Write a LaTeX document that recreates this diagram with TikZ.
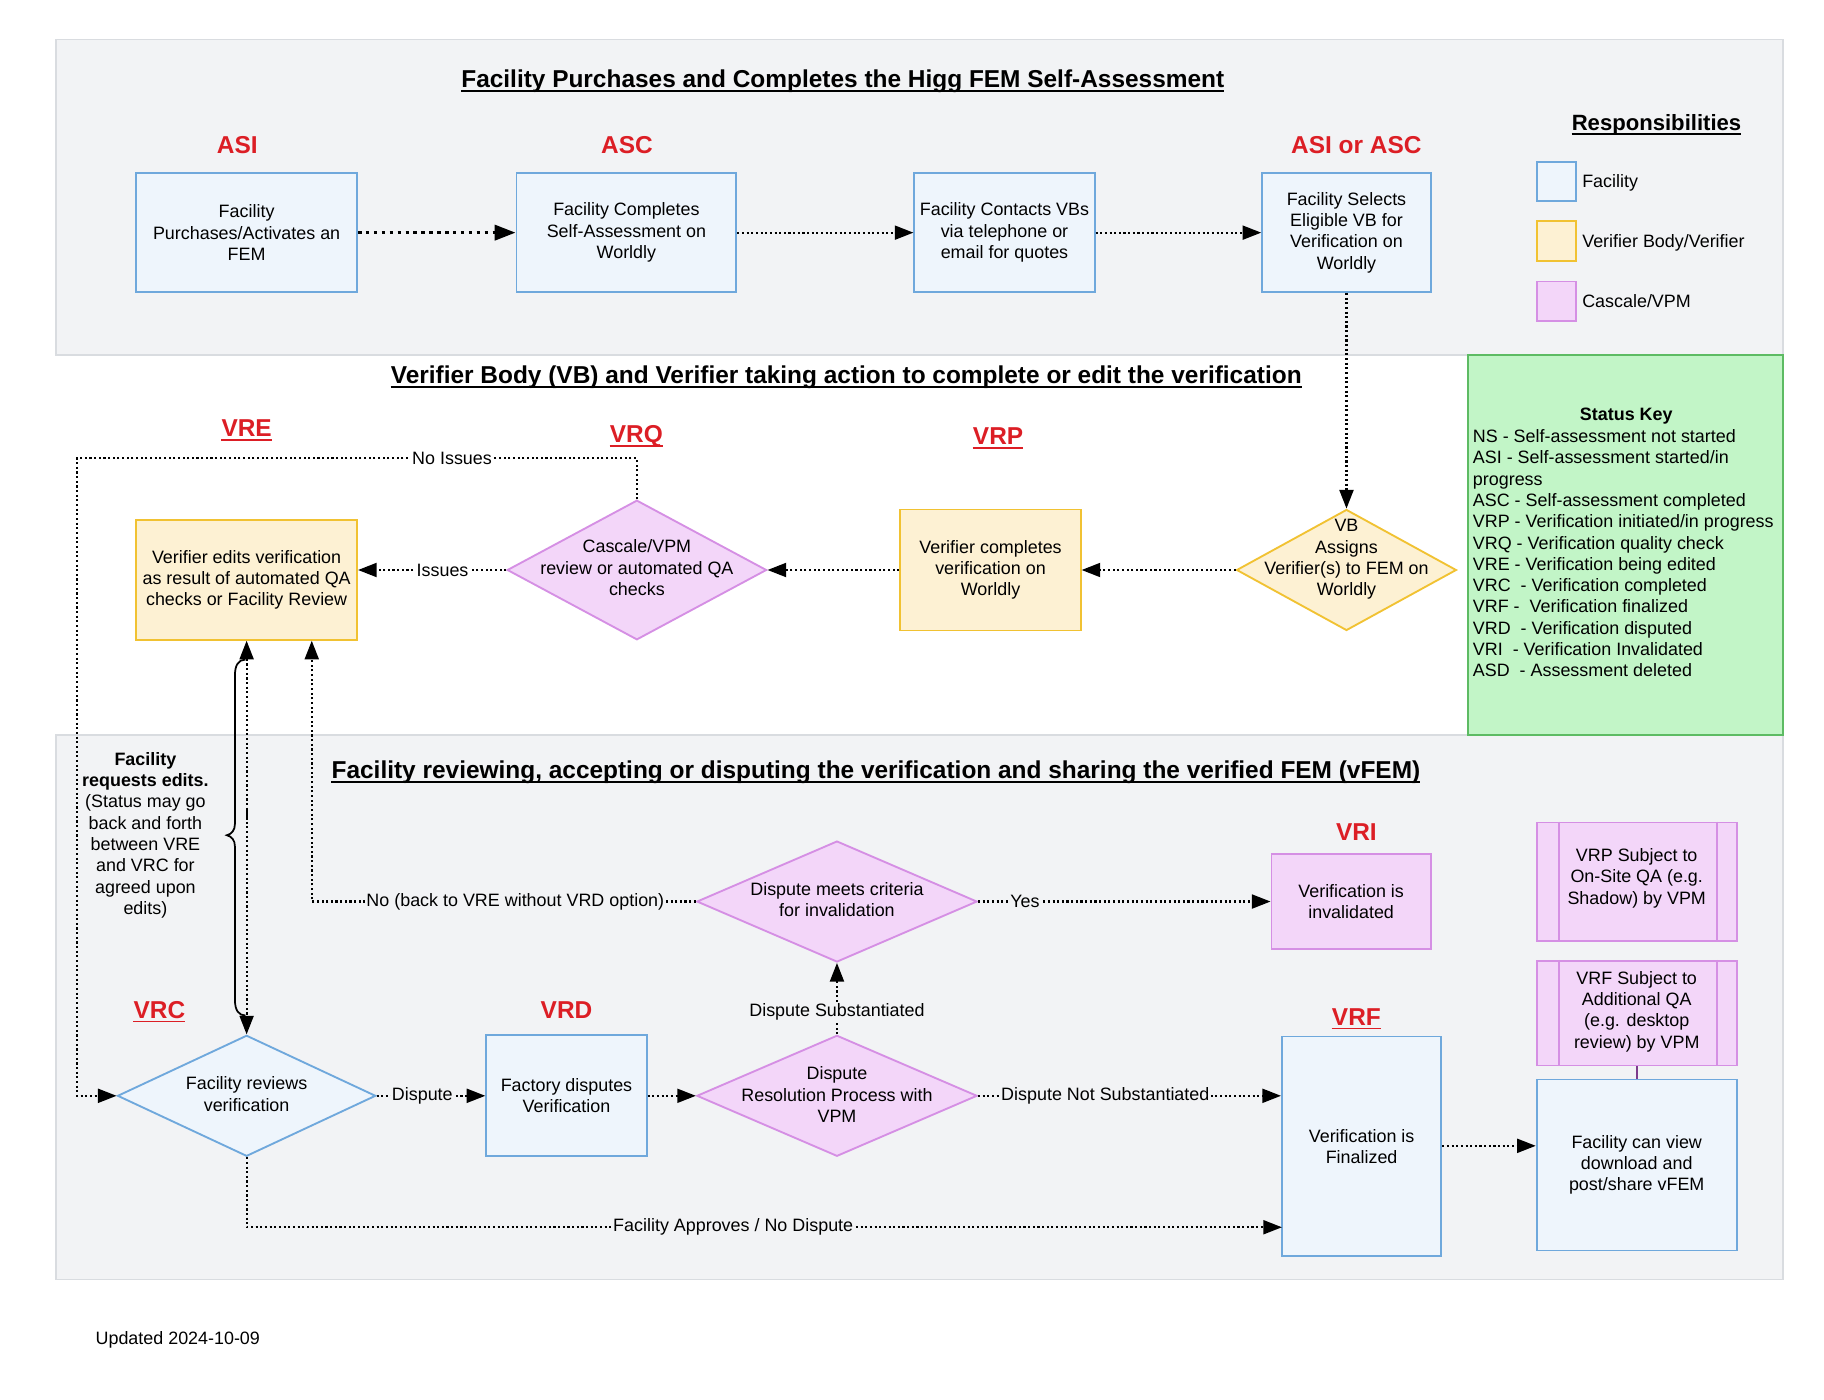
\documentclass[tikz,border=0pt]{standalone}
\usepackage{fontspec}
\setmainfont{Liberation Sans}
\usetikzlibrary{arrows.meta,shapes.geometric,calc}
\definecolor{gpanel}{HTML}{F2F3F5}
\definecolor{gline}{HTML}{D9DCE0}
\definecolor{fline}{HTML}{6FA8DC}
\definecolor{ffill}{HTML}{EEF5FC}
\definecolor{vline}{HTML}{F1C232}
\definecolor{vfill}{HTML}{FDF1D3}
\definecolor{cline}{HTML}{D58FE4}
\definecolor{cfill}{HTML}{F3D6F9}
\definecolor{kline}{HTML}{5DBB63}
\definecolor{kfill}{HTML}{C2F5C7}
\definecolor{sred}{HTML}{DC1E25}
\definecolor{plink}{HTML}{7D3C8C}
\newcommand\fsz{\fontsize{15.4}{18.3}\selectfont}
\newcommand\fti{\fontsize{21}{25}\selectfont\bfseries}
\begin{document}
\begin{tikzpicture}[x=1pt,y=-1pt,
  txt/.style={font=\fsz, align=center, text=black, inner sep=1pt},
  boxbase/.style={txt, line width=1.6pt, inner sep=2pt},
  fbox/.style={boxbase, draw=fline, fill=ffill},
  vbox/.style={boxbase, draw=vline, fill=vfill},
  cbox/.style={boxbase, draw=cline, fill=cfill},
  diabase/.style={diamond, line width=1.6pt, inner sep=0pt},
  fdia/.style={diabase, draw=fline, fill=ffill},
  vdia/.style={diabase, draw=vline, fill=vfill},
  cdia/.style={diabase, draw=cline, fill=cfill},
  title/.style={font=\fti, inner sep=0pt, anchor=base},
  slabel/.style={font=\fti, text=sred, inner sep=0pt},
  flow/.style={line width=1.8pt, dash pattern=on 1.8pt off 2.2pt, -{Triangle[length=16pt,width=12pt]}},
  flowthick/.style={line width=3pt, dash pattern=on 3pt off 3.8pt, -{Triangle[length=18pt,width=13pt]}},
  biflow/.style={line width=1.8pt, dash pattern=on 1.8pt off 2.2pt, {Triangle[length=16pt,width=12pt]}-{Triangle[length=16pt,width=12pt]}},
  lblw/.style={txt, fill=white, inner sep=1pt},
  lblg/.style={txt, fill=gpanel, inner sep=1pt},
  legsq/.style={line width=1.6pt, minimum width=34pt, minimum height=34pt, inner sep=0pt},
  uline/.style={line width=1.5pt}
]
\useasboundingbox (0,0) rectangle (1568,1203.5);
\fill[white] (0,0) rectangle (1568,1203.5);
% panels
\draw[gline, fill=gpanel, line width=1.5pt] (48,34) rectangle (1533,305);
\draw[gline, fill=gpanel, line width=1.5pt] (48,632) rectangle (1533,1100);
\node[draw=kline, fill=kfill, line width=1.6pt, minimum width=271pt, minimum height=327pt, inner sep=0pt] (skbox) at (1397.5,468.5) {};

% titles
\node[title] (t1) at (724.5,75.5) {Facility Purchases and Completes the Higg FEM Self-Assessment};
\draw[uline] ([yshift=-3pt]t1.base west) -- ([yshift=-3pt]t1.base east);
\node[title] (t2) at (727.5,329.5) {Verifier Body (VB) and Verifier taking action to complete or edit the verification};
\draw[uline] ([yshift=-3pt]t2.base west) -- ([yshift=-3pt]t2.base east);
\node[title] (t3) at (753,669.5) {Facility reviewing, accepting or disputing the verification and sharing the verified FEM (vFEM)};
\draw[uline] ([yshift=-3pt]t3.base west) -- ([yshift=-3pt]t3.base east);
\node[title, font=\fontsize{19}{23}\selectfont\bfseries] (resp) at (1424,112) {Responsibilities};
\draw[uline] ([yshift=-3pt]resp.base west) -- ([yshift=-3pt]resp.base east);

% legend
\node[legsq, draw=fline, fill=ffill] (lg1) at (1338,156) {};
\node[legsq, draw=vline, fill=vfill] (lg2) at (1338,207) {};
\node[legsq, draw=cline, fill=cfill] (lg3) at (1338,259) {};
\node[txt, anchor=base west, inner sep=0pt] (lgt1) at (1360,161.5) {Facility};
\node[txt, anchor=base west, inner sep=0pt] (lgt2) at (1360,212.5) {Verifier Body/Verifier};
\node[txt, anchor=base west, inner sep=0pt] (lgt3) at (1360,264.5) {Cascale/VPM};

% status key
\node[txt, font=\fsz\bfseries, anchor=base, inner sep=0pt] (skt) at (1398,361.5) {Status Key};
\foreach \t [count=\i] in {NS - Self-assessment not started, ASI - Self-assessment started/in, progress, ASC - Self-assessment completed, VRP - Verification initiated/in progress, VRQ - Verification quality check, VRE - Verification being edited, VRC\ \ - Verification completed, VRF -\ \ Verification finalized, VRD\ \ - Verification disputed, VRI\ \ - Verification Invalidated, ASD\ \ - Assessment deleted}
  \node[txt, anchor=base west, inner sep=0pt] (sk\i) at (1266,{380.5+18.3*(\i-1)}) {\t};

% status labels
\node[slabel] (lasi) at (204,125) {ASI};
\node[slabel] (lasc) at (539,125) {ASC};
\node[slabel] (lasiasc) at (1166,125) {ASI or ASC};
\node[slabel] (lvre) at (212,368) {VRE};
\node[slabel] (lvrq) at (547,375) {VRQ};
\node[slabel] (lvrp) at (858,375) {VRP};
\node[slabel] (lvrc) at (137,868) {VRC};
\node[slabel] (lvrd) at (487,868) {VRD};
\node[slabel] (lvri) at (1166,715) {VRI};
\node[slabel] (lvrf) at (1166,874) {VRF};
\foreach \n in {lvre,lvrq,lvrp,lvrc,lvrf}
  \draw[uline, sred] ([yshift=-3pt]\n.base west) -- ([yshift=-3pt]\n.base east);

% top row
\node[fbox, minimum width=190pt, minimum height=102pt] (b1) at (212,200) {Facility\\Purchases/Activates an\\FEM};
\node[fbox, minimum width=189pt, minimum height=102pt] (b2) at (538.5,200) {Facility Completes\\Self-Assessment on\\Worldly};
\node[fbox, minimum width=155pt, minimum height=102pt] (b3) at (863.5,200) {Facility Contacts VBs\\via telephone or\\email for quotes};
\node[fbox, minimum width=145pt, minimum height=102pt] (b4) at (1157.5,200) {Facility Selects\\Eligible VB for\\Verification on\\Worldly};

% middle row
\node[vbox, minimum width=190pt, minimum height=103pt] (vre) at (212,498.5) {Verifier edits verification\\as result of automated QA\\checks or Facility Review};
\node[cdia, minimum width=223pt, minimum height=120pt] (vrq) at (547.5,490) {};
\node[txt] (vrqt) at (547.5,488) {Cascale/VPM\\review or automated QA\\checks};
\node[vbox, minimum width=155pt, minimum height=104pt] (vrp) at (851.5,490) {Verifier completes\\verification on\\Worldly};
\node[vdia, minimum width=189pt, minimum height=104pt] (vb) at (1157.5,490) {};
\node[txt] (vbt) at (1157.5,481) {VB\\Assigns\\Verifier(s) to FEM on\\Worldly};

% bottom
\node[fdia, minimum width=222pt, minimum height=104pt] (vrc) at (212,942) {};
\node[txt] (vrct) at (212,940.5) {Facility reviews\\verification};
\node[fbox, minimum width=138pt, minimum height=104pt] (vrd) at (487,942) {Factory disputes\\Verification};
\node[cdia, minimum width=241pt, minimum height=104pt] (drp) at (719.5,942) {};
\node[txt] (drpt) at (719.5,941) {Dispute\\Resolution Process with\\VPM};
\node[cdia, minimum width=241pt, minimum height=104pt] (dmc) at (719.5,775) {};
\node[txt] (dmct) at (719.5,773.5) {Dispute meets criteria\\for invalidation};
\node[cbox, minimum width=137pt, minimum height=82pt] (vri) at (1161.5,775) {Verification is\\invalidated};
\node[cbox, minimum width=172pt, minimum height=102pt] (vrps) at (1407,758) {};
\node[txt] (vrpst) at (1407,755) {VRP Subject to\\On-Site QA (e.g.\\Shadow) by VPM};
\draw[cline, line width=1.6pt] ([xshift=20pt]vrps.north west) -- ([xshift=20pt]vrps.south west);
\draw[cline, line width=1.6pt] ([xshift=-18pt]vrps.north east) -- ([xshift=-18pt]vrps.south east);
\node[cbox, minimum width=172pt, minimum height=90pt] (vrfs) at (1407,871) {};
\node[txt] (vrfst) at (1407,869.5) {VRF Subject to\\Additional QA\\(e.g. desktop\\review) by VPM};
\draw[cline, line width=1.6pt] ([xshift=20pt]vrfs.north west) -- ([xshift=20pt]vrfs.south west);
\draw[cline, line width=1.6pt] ([xshift=-18pt]vrfs.north east) -- ([xshift=-18pt]vrfs.south east);
\node[fbox, minimum width=137pt, minimum height=189pt] (vrf) at (1170.5,985.5) {Verification is\\Finalized};
\node[fbox, minimum width=172pt, minimum height=147pt] (vfem) at (1407,1001.5) {Facility can view\\download and\\post/share vFEM};

% side note
\node[txt] (note) at (125,718) {\textbf{Facility}\\\textbf{requests edits.}\\(Status may go\\back and forth\\between VRE\\and VRC for\\agreed upon\\edits)};
\node[txt, anchor=base west, inner sep=0pt] (upd) at (82,1155.5) {Updated 2024-10-09};

% connectors top
\draw[flowthick] (b1) -- (b2);
\draw[flow] (b2) -- (b3);
\draw[flow] (b3) -- (b4);
\draw[flow] (b4) -- (vb);
% middle
\draw[flow] (vb) -- (vrp);
\draw[flow] (vrp) -- (vrq);
\draw[flow] (vrq.west) -- node[lblw, pos=0.43] {Issues} (vrq.west -| vre.east);
\coordinate (c1) at (66,394);
\draw[flow] (vrq.north) |- (c1) |- (vrc.west);
\path (vrq.north |- c1) -- node[lblw, pos=0.33] {No Issues} (c1);
% bottom
\draw[biflow] (vre.south) -- (vrc.north);
\draw[line width=1.6pt] (212,695) -- (212,705);
\draw[line width=1.5pt] (211,567) .. controls (205,567) and (202,572) .. (202,580) -- (202,708) .. controls (202,714) and (199,717) .. (195,718) .. controls (199,719) and (202,722) .. (202,728) -- (202,860) .. controls (202,868) and (205,873) .. (211,873);
\draw[flow] (vrc) -- node[lblg, pos=0.42] {Dispute} (vrd);
\draw[flow] (vrd) -- (drp);
\draw[flow] (drp.east) -- node[lblg, pos=0.42] {Dispute Not Substantiated} (drp.east -| vrf.west);
\draw[flow] (drp) -- node[lblg, pos=0.32] {Dispute Substantiated} (dmc);
\draw[flow] (dmc) -- node[lblg, pos=0.16] {Yes} (vri);
\coordinate (c2) at (268,775);
\draw[flow] (dmc.west) -- node[lblg, pos=0.47] {No (back to VRE without VRD option)} (c2) -- (c2 |- vre.south);
\coordinate (c4) at (1102,1055);
\draw[flow] (vrc.south) |- (c4);
\path (vrc.south |- c4) -- node[lblg, pos=0.47] {Facility Approves / No Dispute} (c4);
\draw[flow] (vrf.east |- 0,985) -- (vfem.west |- 0,985);
\draw[plink, line width=2pt] (vrfs.south) -- (vfem.north);
\end{tikzpicture}
\end{document}
